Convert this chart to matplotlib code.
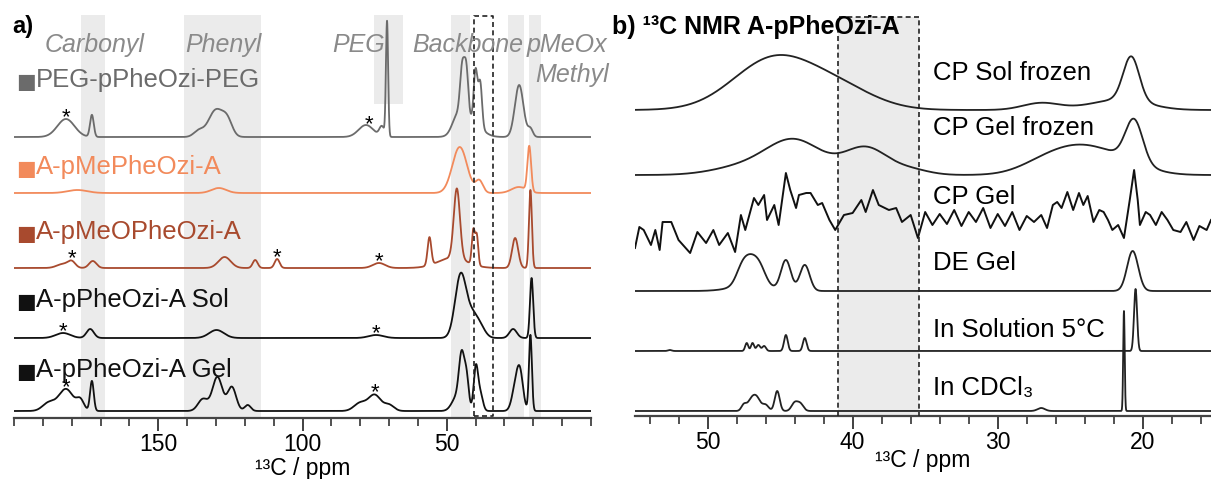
import numpy as np
import matplotlib
matplotlib.use("Agg")
import matplotlib.pyplot as plt
from matplotlib.ticker import MultipleLocator

plt.rcParams['font.family'] = ['Liberation Sans', 'DejaVu Sans']

W, H = 1211, 479          # figure size in pixels (dpi 100)

# ---- panel a): solid-state 13C spectra, peak tables (ppm, height, fwhm) ----
peg_peaks = [(182, 18, 7), (173, 22, 1.5), (136, 6, 4), (130, 27, 6), (126, 14, 4),
             (78, 12, 6), (72.5, 10, 2), (70.7, 115, 0.9),
             (46.5, 15, 4), (42, 18, 8), (44.6, 50, 1.8), (43.2, 46, 1.6),
             (40.0, 52, 1.5), (38.4, 44, 1.5), (24.9, 52, 3.5), (21, 8, 2)]
mephe_peaks = [(178, 3, 8), (129, 5, 6), (45.5, 46, 6), (38.7, 12, 3),
               (25, 6, 6), (21.4, 45, 1.5)]
meophe_peaks = [(183, 4, 5), (180, 6, 3), (172.7, 7, 3), (127, 11, 5), (116.4, 8, 2),
                (108.8, 9, 2), (73.5, 5, 5), (56, 28, 1.5), (48, 10, 12),
                (46.5, 70, 2.5), (40.8, 34, 1.2), (39.6, 30, 1.2),
                (26.3, 30, 2.5), (21.0, 78, 1.2)]
sol_peaks = [(183, 5, 6), (173.6, 9, 3), (129.8, 8, 6), (74.5, 3, 6),
             (45.2, 62, 4.5), (41, 22, 5), (38, 6, 4), (27, 9, 3), (20.6, 60, 1.3)]
gel_peaks = [(188, 8, 5), (182, 22, 6), (177, 10, 3), (173, 30, 1.5),
             (134.5, 12, 4), (129.5, 34, 4), (124.5, 24, 3.5), (119, 6, 2.5),
             (80, 8, 5), (75, 16, 5), (70, 6, 4),
             (46.5, 14, 4), (44.8, 50, 2.2), (43.1, 30, 1.8), (39.9, 44, 1.8),
             (38.3, 16, 2), (26, 26, 3), (24.5, 30, 2.5), (21.0, 76, 1.2)]

left_names = ["PEG-pPheOzi-PEG", "A-pMePheOzi-A", "A-pMeOPheOzi-A",
              "A-pPheOzi-A Sol", "A-pPheOzi-A Gel"]
left_peaks = [peg_peaks, mephe_peaks, meophe_peaks, sol_peaks, gel_peaks]
left_colors = ["#6b6b6b", "#f28a5b", "#a84a2e", "#111111", "#111111"]

# spinning sidebands marked with an asterisk (ppm, trace index)
sideband_ppm = [182, 77, 180, 108.8, 73.5, 183, 74.5, 182, 75]
sideband_trace = [0, 0, 2, 2, 2, 3, 3, 4, 4]

# assignment regions (ppm ranges) and their labels
regions = [(176.8, 168.3), (141, 114.5), (48.5, 41.9), (28.7, 23.2), (21.5, 17.5)]
peg_region = (75.1, 65)
region_labels = ["Carbonyl", "Phenyl", "PEG", "Backbone", "pMeOx", "Methyl"]

# ---- panel b): backbone region, peak tables (ppm, height, fwhm) ----
cp_sol_frozen = [(45.5, 50, 6.5), (41, 20, 6), (27, 7, 3), (23, 4, 4),
                 (21, 8, 4), (20.8, 44, 1.3)]
cp_gel_frozen = [(47.5, 8, 5), (44, 34, 4.5), (39.1, 27, 3.5), (36, 5, 3),
                 (27, 8, 4), (24.2, 27, 5), (21, 8, 4), (20.6, 42, 1.4)]
de_gel = [(47, 6, 3), (47.6, 18, 1.0), (47.0, 18, 1.0), (46.4, 17, 1.0),
          (44.6, 30, 0.8), (43.3, 26, 0.8), (20.7, 40, 0.9)]
solution_5c = [(52.6, 1, 0.3), (47.3, 8, 0.25), (46.9, 8, 0.25), (46.5, 6, 0.3),
               (46.1, 5, 0.3), (44.6, 16, 0.3), (43.3, 13, 0.3), (20.5, 62, 0.25)]
cdcl3 = [(47.5, 6, 0.4), (47.0, 10, 0.6), (46.6, 12, 0.6), (46.0, 6, 0.5),
         (45.2, 20, 0.4), (44.0, 8, 0.5), (43.6, 7, 0.5), (27, 3, 0.6),
         (21.3, 100, 0.12)]

# CP Gel is a raw, noisy trace: read point by point
cp_gel_ppm = [55.0, 54.7, 54.4, 53.9, 53.6, 53.3, 53.1, 52.5, 52.0, 51.2, 50.7, 50.1,
              49.6, 49.2, 48.6, 48.1, 47.7, 47.4, 46.8, 46.5, 46.1, 45.9, 45.4, 45.1,
              44.6, 44.3, 43.9, 43.7, 43.2, 42.9, 42.4, 42.1, 41.6, 41.2, 40.6, 40.0,
              39.4, 39.1, 38.6, 38.2, 37.5, 37.0, 36.6, 36.0, 35.5, 35.0, 34.5, 34.0,
              33.5, 33.0, 32.5, 32.0, 31.5, 31.0, 30.5, 30.0, 29.5, 29.0, 28.5, 28.0,
              27.5, 27.0, 26.6, 26.2, 25.9, 25.6, 25.2, 24.8, 24.4, 24.1, 23.8, 23.4,
              23.0, 22.7, 22.4, 22.1, 21.7, 21.3, 20.9, 20.6, 20.35, 20.2, 19.8, 19.5,
              19.1, 18.7, 18.3, 17.9, 17.4, 17.0, 16.5, 16.1, 15.6, 15.3]
cp_gel_int = [-28, -7, -10, -25, -10, -30, -2, -2, -20, -33, -12, -23,
              -10, -25, -13, -32, 5, -10, 22, 15, 25, 0, 15, -5,
              47, 30, 12, 25, 27, 27, 15, 17, 0, -10, 5, 7,
              20, 8, 30, 15, 10, 12, -2, 5, -18, 8, -5, 6,
              -4, 10, -6, 8, -2, 12, -8, 6, -6, 8, -10, 4,
              -2, 5, -8, 15, 18, 12, 28, 10, 27, 15, 24, -2,
              10, 8, 0, -10, -5, -18, 20, 50, 20, -5, 8, 5,
              -5, 8, 0, -10, -12, -2, -20, -6, -10, 0]

right_names = ["CP Sol frozen", "CP Gel frozen", "CP Gel", "DE Gel",
               "In Solution 5°C", "In CDCl₃"]

# ---- layout (pixels) ----
LEFT_X0, LEFT_X1, LEFT_AXIS_Y = 14, 591, 418
RIGHT_X0, RIGHT_X1, RIGHT_AXIS_Y = 635, 1211, 416
left_base_px = [137, 193, 268, 338, 411]
left_label_px = [80, 167, 232, 300, 370]
right_base_px = [110, 175, 220, 291, 351, 411]
right_label_px = [73, 128, 197, 263, 330, 388]
BAND_GRAY = "#ebebeb"


def fx(x):
    return x / W


def fy(y):
    return 1 - y / H


def lineshape(ppm, peaks):
    ppm = np.asarray(ppm, dtype=float)
    y = np.zeros_like(ppm)
    for center, height, fwhm in peaks:
        sigma = fwhm / 2.3548
        y += height * np.exp(-0.5 * ((ppm - center) / sigma) ** 2)
    return y


def style_axis(ax, major, minor):
    for side in ("left", "right", "top"):
        ax.spines[side].set_visible(False)
    ax.spines["bottom"].set_linewidth(1.6)
    ax.spines["bottom"].set_color("#444444")
    ax.set_yticks([])
    ax.xaxis.set_major_locator(MultipleLocator(major))
    ax.xaxis.set_minor_locator(MultipleLocator(minor))
    ax.tick_params(axis="x", which="major", direction="out", length=9, width=1.3,
                   color="#333333", labelsize=16.5, pad=2)
    ax.tick_params(axis="x", which="minor", direction="out", length=6, width=1.2,
                   color="#333333")
    ax.patch.set_alpha(0)


fig = plt.figure(figsize=(W / 100, H / 100), dpi=100)

# ---------------- panel a) ----------------
axa = fig.add_axes([fx(LEFT_X0), fy(LEFT_AXIS_Y), fx(LEFT_X1 - LEFT_X0), LEFT_AXIS_Y / H])
axa.set_xlim(200, 0)
axa.set_ylim(0, LEFT_AXIS_Y)
style_axis(axa, 50, 10)
axa.set_xticks([150, 100, 50])

top_frac = (LEFT_AXIS_Y - 15) / LEFT_AXIS_Y
for lo, hi in regions:
    axa.axvspan(hi, lo, ymin=0, ymax=top_frac, color=BAND_GRAY, lw=0, zorder=0)
axa.axvspan(peg_region[1], peg_region[0], ymin=(LEFT_AXIS_Y - 104) / LEFT_AXIS_Y,
            ymax=top_frac, color=BAND_GRAY, lw=0, zorder=0)

# dashed box marking the region enlarged in panel b)
box_x = [40.4, 40.4, 33.9, 33.9, 40.4]
box_y = [2, LEFT_AXIS_Y - 16, LEFT_AXIS_Y - 16, 2, 2]
axa.plot(box_x, box_y, ls=(0, (3, 2)), color="#222222", lw=1.2, zorder=3)

ppm_a = np.linspace(200, 0, 6000)
for i, peaks in enumerate(left_peaks):
    offset = LEFT_AXIS_Y - left_base_px[i]
    axa.plot(ppm_a, offset + lineshape(ppm_a, peaks), color=left_colors[i], lw=1.3, zorder=2)
    fig.text(fx(16), fy(left_label_px[i] + 2), "■", color=left_colors[i], fontsize=15,
             va="center", ha="left", family=["DejaVu Sans"])
    fig.text(fx(36), fy(left_label_px[i]), left_names[i], color=left_colors[i],
             fontsize=18.5, va="center", ha="left")

for p, t in zip(sideband_ppm, sideband_trace):
    offset = LEFT_AXIS_Y - left_base_px[t]
    level = offset + lineshape([p], left_peaks[t])[0]
    axa.text(p, level - 4, "*", ha="center", va="baseline", fontsize=16, color="black")

label_pos = [(95, 45), (223, 45), (359, 45), (468, 45), (567, 45), (572, 75)]
for text, (x, y) in zip(region_labels, label_pos):
    fig.text(fx(x), fy(y), text, color="#8a8a8a", fontsize=18, style="italic",
             ha="center", va="center")

axa.set_xlabel("¹³C / ppm", fontsize=16.5, labelpad=0.5)
fig.text(fx(12), fy(27), "a)", fontsize=17, fontweight="bold", ha="left", va="center")

# ---------------- panel b) ----------------
axb = fig.add_axes([fx(RIGHT_X0), fy(RIGHT_AXIS_Y), fx(RIGHT_X1 - RIGHT_X0), RIGHT_AXIS_Y / H])
axb.set_xlim(55, 15.3)
axb.set_ylim(0, RIGHT_AXIS_Y)
style_axis(axb, 10, 2)

box_top = RIGHT_AXIS_Y - 17
axb.fill_between([41, 35.4], 0, box_top, color=BAND_GRAY, lw=0, zorder=0)
axb.plot([41, 41, 35.4, 35.4], [0, box_top, box_top, 0], ls=(0, (3, 2)),
         color="#222222", lw=1.2, zorder=3)

ppm_b = np.linspace(55, 15.3, 8000)
right_spectra = [cp_sol_frozen, cp_gel_frozen, None, de_gel, solution_5c, cdcl3]
for i, peaks in enumerate(right_spectra):
    offset = RIGHT_AXIS_Y - right_base_px[i]
    if peaks is None:
        axb.plot(cp_gel_ppm, offset + np.array(cp_gel_int), color="#111111", lw=1.4, zorder=2)
    else:
        axb.plot(ppm_b, offset + lineshape(ppm_b, peaks), color="#222222", lw=1.3, zorder=2)
    fig.text(fx(933), fy(right_label_px[i]), right_names[i], fontsize=18.5,
             ha="left", va="center")

axb.set_xlabel("¹³C / ppm", fontsize=16.5, labelpad=-4)
fig.text(fx(612), fy(27), "b) ¹³C NMR A-pPheOzi-A", fontsize=18,
         fontweight="bold", ha="left", va="center")

fig.savefig("out.png", dpi=100)
